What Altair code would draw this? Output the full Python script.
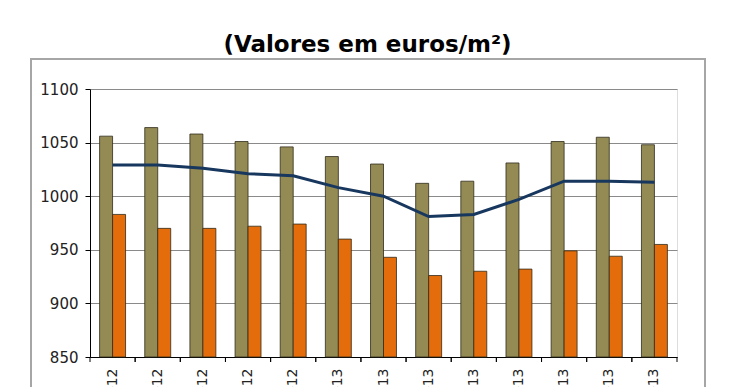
import altair as alt
import pandas as pd

meses = ["Ago-12", "Set-12", "Out-12", "Nov-12", "Dez-12", "Jan-13", "Fev-13",
         "Mar-13", "Abr-13", "Mai-13", "Jun-13", "Jul-13", "Ago-13"]
apartamentos = [1056, 1064, 1058, 1051, 1046, 1037, 1030, 1012, 1014, 1031, 1051, 1055, 1048]
moradias = [983, 970, 970, 972, 974, 960, 943, 926, 930, 932, 949, 944, 955]
total = [1029, 1029, 1026, 1021, 1019, 1008, 1000, 981, 983, 997, 1014, 1014, 1013]

series = ["Apartamentos", "Moradias"]
cores = ["#948A54", "#E46C0A"]
y_ticks = [850, 900, 950, 1000, 1050, 1100]

bars_df = pd.DataFrame({
    "mes": meses * 2,
    "serie": [series[0]] * len(meses) + [series[1]] * len(meses),
    "valor": apartamentos + moradias,
})
line_df = pd.DataFrame({"mes": meses, "valor": total})
one_df = pd.DataFrame({"a": [0]})

W, H = 587, 268

xscale = alt.Scale(domain=meses, paddingInner=0, paddingOuter=0)
yscale = alt.Scale(domain=[850, 1100], zero=False, nice=False)

x_axis = alt.Axis(title=None, labelAngle=-90, ticks=False, grid=False,
                  domainColor="#000000", domainWidth=1, labelFontSize=14,
                  labelPadding=11, labelColor="#222222", labelFont="DejaVu Sans")
y_axis = alt.Axis(title=None, values=y_ticks, format="d", grid=True, gridColor="#8a8a8a",
                  gridWidth=1, domainColor="#000000", tickColor="#000000",
                  tickSize=5, labelFontSize=15, labelPadding=7,
                  labelColor="#222222", labelFont="DejaVu Sans")

border = alt.Chart(one_df).mark_rect(fillOpacity=0, stroke="#a6a6a6", strokeWidth=2).encode(
    x=alt.value(-59), x2=alt.value(615), y=alt.value(-30), y2=alt.value(430)
)

bars = alt.Chart(bars_df).mark_bar(stroke="#2e2b1c", strokeWidth=0.8).encode(
    x=alt.X("mes:N", scale=xscale, axis=x_axis, sort=meses),
    xOffset=alt.XOffset("serie:N", sort=series,
                        scale=alt.Scale(domain=series, paddingInner=0, paddingOuter=0.74)),
    y=alt.Y("valor:Q", scale=yscale, axis=y_axis),
    y2=alt.datum(850),
    color=alt.Color("serie:N", scale=alt.Scale(domain=series, range=cores), legend=None),
)

line = alt.Chart(line_df).mark_line(color="#17375E", strokeWidth=3).encode(
    x=alt.X("mes:N", sort=meses),
    y=alt.Y("valor:Q"),
)

ticks0 = alt.Chart(line_df).mark_rule(color="#000000", strokeWidth=1).encode(
    x=alt.X("mes:N", sort=meses, bandPosition=0),
    y=alt.value(H), y2=alt.value(H + 5),
)
ticks1 = alt.Chart(line_df).mark_rule(color="#000000", strokeWidth=1).encode(
    x=alt.X("mes:N", sort=meses, bandPosition=1),
    y=alt.value(H), y2=alt.value(H + 5),
)

chart = alt.layer(border, bars, line, ticks0, ticks1).properties(
    width=W,
    height=H,
    autosize=alt.AutoSizeParams(type="none"),
    padding={"left": 82, "top": 81, "right": 40, "bottom": 30},
    title=alt.TitleParams(
        "(Valores em euros/m²)", font="DejaVu Sans", fontSize=23,
        fontWeight="bold", color="#000000", anchor="middle", dx=-16, offset=1,
    ),
).configure_view(stroke=None).configure(background="white")

chart.save("out.html", embed_options={"renderer": "svg", "actions": False})
